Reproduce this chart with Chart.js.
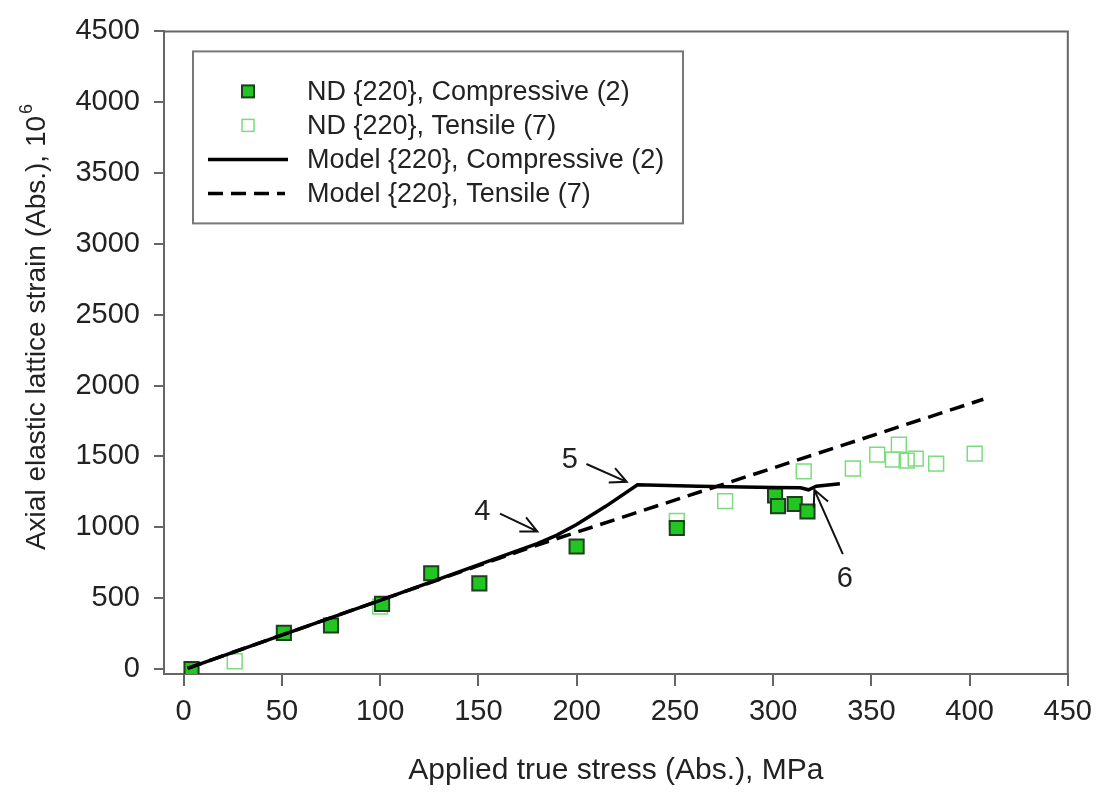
<!DOCTYPE html>
<html>
<head>
<meta charset="utf-8">
<script src="https://cdn.jsdelivr.net/npm/chart.js@4.4.0/dist/chart.umd.min.js"></script>
<style>
  body { margin: 0; background: #fff; }
  #wrap { width: 1101px; height: 792px; position: relative; }
</style>
</head>
<body>
<div id="wrap"><canvas id="myChart"></canvas></div>
<script>
// data
const xTicks = [0, 50, 100, 150, 200, 250, 300, 350, 400, 450]
const yTicks = [0, 500, 1000, 1500, 2000, 2500, 3000, 3500, 4000, 4500]

const xTitle = "Applied true stress (Abs.), MPa"
const yTitle = "Axial elastic lattice strain (Abs.), 10"

const seriesNames = [
    "ND {220}, Compressive (2)",
    "ND {220}, Tensile (7)",
    "Model {220}, Compressive (2)",
    "Model {220}, Tensile (7)",
]

const compStress = [4, 51, 75, 101, 126, 150.5, 200, 251, 301, 302.5, 311, 317.5]
const compStrain = [0, 255, 307, 460, 676, 605, 865, 995, 1225, 1150, 1165, 1112]

const tensStress = [26, 100, 251, 275.6, 315.6, 340.6, 353, 361, 364, 368, 372.6, 383, 402.6]
const tensStrain = [55, 440, 1045, 1185, 1395, 1415, 1513, 1478, 1583, 1471, 1485, 1450, 1520]

const modelCompStress = [2, 100, 170, 180, 190, 200, 215, 231, 262, 300, 314, 318, 322, 334]
const modelCompStrain = [5, 485, 835, 885, 945, 1020, 1150, 1300, 1290, 1282, 1279, 1265, 1290, 1307]

const modelTensStress = [2, 100, 150, 180, 407]
const modelTensStrain = [5, 485, 730, 875, 1904]

// numbered callouts: label spot, arrow tail, arrow head (data units)
const callouts = [
    { text: "4", at: [152, 1111], from: [161, 1097], to: [180, 971] },
    { text: "5", at: [196.5, 1474], from: [205, 1447], to: [225.5, 1321] },
    { text: "6", at: [336.5, 636], from: [335.5, 811], to: [321, 1265] },
]

const FONT = "'Liberation Sans', Arial, sans-serif"
const compFill = "#22c622"
const compEdge = "#1d3f1d"
const tensEdge = "#7bdc7b"
const axisGrey = "#666"
const textCol = "#222"

function toPoints(xs, ys) {
    return xs.map((x, i) => ({ x: x, y: ys[i] }))
}

function drawArrow(ctx, x1, y1, x2, y2) {
    const ang = Math.atan2(y2 - y1, x2 - x1)
    const len = 18
    ctx.beginPath()
    ctx.moveTo(x1, y1)
    ctx.lineTo(x2, y2)
    ctx.moveTo(x2 - len * Math.cos(ang - 0.45), y2 - len * Math.sin(ang - 0.45))
    ctx.lineTo(x2, y2)
    ctx.lineTo(x2 - len * Math.cos(ang + 0.45), y2 - len * Math.sin(ang + 0.45))
    ctx.stroke()
}

const extrasPlugin = {
    id: "extras",
    afterDatasetsDraw(chart) {
        const ctx = chart.ctx
        const ca = chart.chartArea
        const xs = chart.scales.x
        const ys = chart.scales.y
        ctx.save()

        // frame on top and right
        ctx.strokeStyle = axisGrey
        ctx.lineWidth = 2
        ctx.beginPath()
        ctx.moveTo(ca.left, ca.top)
        ctx.lineTo(ca.right, ca.top)
        ctx.lineTo(ca.right, ca.bottom)
        ctx.stroke()

        // y axis title with superscript
        ctx.save()
        ctx.translate(37, 327)
        ctx.rotate(-Math.PI / 2)
        ctx.fillStyle = textCol
        ctx.font = "28px " + FONT
        ctx.textBaseline = "middle"
        const w = ctx.measureText(yTitle).width
        ctx.font = "18px " + FONT
        const ws = ctx.measureText("6").width
        const start = -(w + ws + 2) / 2
        ctx.font = "28px " + FONT
        ctx.textAlign = "left"
        ctx.fillText(yTitle, start, 0)
        ctx.font = "18px " + FONT
        ctx.fillText("6", start + w + 2, -10)
        ctx.restore()

        // callouts
        ctx.strokeStyle = "#111"
        ctx.lineWidth = 2
        ctx.fillStyle = textCol
        ctx.font = "29px " + FONT
        ctx.textAlign = "center"
        ctx.textBaseline = "middle"
        callouts.forEach((c) => {
            ctx.fillText(c.text, xs.getPixelForValue(c.at[0]), ys.getPixelForValue(c.at[1]))
            drawArrow(ctx,
                xs.getPixelForValue(c.from[0]), ys.getPixelForValue(c.from[1]),
                xs.getPixelForValue(c.to[0]), ys.getPixelForValue(c.to[1]))
        })

        // legend box
        const bx = ca.left + 29
        const by = ca.top + 20
        ctx.fillStyle = "#fff"
        ctx.fillRect(bx, by, 490, 172)
        ctx.strokeStyle = "#777"
        ctx.lineWidth = 2
        ctx.strokeRect(bx, by, 490, 172)

        const rowY = [by + 40, by + 74, by + 108, by + 142]
        const mx = bx + 55
        ctx.font = "27px " + FONT
        ctx.textAlign = "left"
        ctx.textBaseline = "middle"

        ctx.fillStyle = compFill
        ctx.strokeStyle = compEdge
        ctx.lineWidth = 2
        ctx.fillRect(mx - 6, rowY[0] - 6, 12, 12)
        ctx.strokeRect(mx - 6, rowY[0] - 6, 12, 12)

        ctx.strokeStyle = tensEdge
        ctx.lineWidth = 1.5
        ctx.strokeRect(mx - 6, rowY[1] - 6, 12, 12)

        ctx.strokeStyle = "#000"
        ctx.lineWidth = 3.5
        ctx.beginPath()
        ctx.moveTo(bx + 15, rowY[2])
        ctx.lineTo(bx + 95, rowY[2])
        ctx.stroke()
        ctx.setLineDash([15, 8])
        ctx.beginPath()
        ctx.moveTo(bx + 15, rowY[3])
        ctx.lineTo(bx + 92, rowY[3])
        ctx.stroke()
        ctx.setLineDash([])

        ctx.fillStyle = textCol
        seriesNames.forEach((name, i) => {
            ctx.fillText(name, bx + 114, rowY[i] + 1)
        })

        ctx.restore()
    },
}

const myChart = new Chart(document.getElementById("myChart").getContext("2d"), {
    type: "scatter",
    data: {
        datasets: [
            {
                label: seriesNames[2],
                data: toPoints(modelCompStress, modelCompStrain),
                showLine: true,
                borderColor: "#000",
                borderWidth: 3.5,
                pointRadius: 0,
                order: 1,
            },
            {
                label: seriesNames[3],
                data: toPoints(modelTensStress, modelTensStrain),
                showLine: true,
                borderColor: "#000",
                borderWidth: 3.5,
                borderDash: [15, 8],
                pointRadius: 0,
                order: 1,
            },
            {
                label: seriesNames[1],
                data: toPoints(tensStress, tensStrain),
                pointStyle: "rect",
                pointRadius: 10.5,
                backgroundColor: "rgba(255,255,255,0)",
                borderColor: tensEdge,
                borderWidth: 1.5,
                order: 3,
            },
            {
                label: seriesNames[0],
                data: toPoints(compStress, compStrain),
                pointStyle: "rect",
                pointRadius: 10,
                backgroundColor: compFill,
                borderColor: compEdge,
                borderWidth: 2,
                order: 2,
            },
        ],
    },
    options: {
        responsive: true,
        maintainAspectRatio: false,
        animation: false,
        layout: { padding: { left: 0, right: 33, top: 25, bottom: 0 } },
        plugins: {
            legend: { display: false },
            tooltip: { enabled: false },
        },
        scales: {
            x: {
                type: "linear",
                min: -10,
                max: 450,
                afterBuildTicks: (scale) => {
                    scale.ticks = xTicks.map((v) => ({ value: v }))
                },
                afterFit: (scale) => {
                    scale.height = 118
                },
                grid: { drawOnChartArea: false, drawTicks: true, tickLength: 12, color: axisGrey, lineWidth: 2 },
                border: { display: true, color: axisGrey, width: 2 },
                ticks: {
                    font: { family: FONT, size: 29 },
                    color: textCol,
                    padding: 9,
                    maxRotation: 0,
                    autoSkip: false,
                    callback: (v) => String(v),
                },
                title: {
                    display: true,
                    text: xTitle,
                    font: { family: FONT, size: 30 },
                    color: textCol,
                    padding: { top: 0, bottom: 3 },
                },
            },
            y: {
                type: "linear",
                min: -35,
                max: 4500,
                afterBuildTicks: (scale) => {
                    scale.ticks = yTicks.map((v) => ({ value: v }))
                },
                afterFit: (scale) => {
                    scale.width = 164
                },
                grid: { drawOnChartArea: false, drawTicks: true, tickLength: 10, color: axisGrey, lineWidth: 2 },
                border: { display: true, color: axisGrey, width: 2 },
                ticks: {
                    font: { family: FONT, size: 29 },
                    color: textCol,
                    padding: 14,
                    autoSkip: false,
                    callback: (v) => String(v),
                },
            },
        },
    },
    plugins: [extrasPlugin],
})
</script>
</body>
</html>
